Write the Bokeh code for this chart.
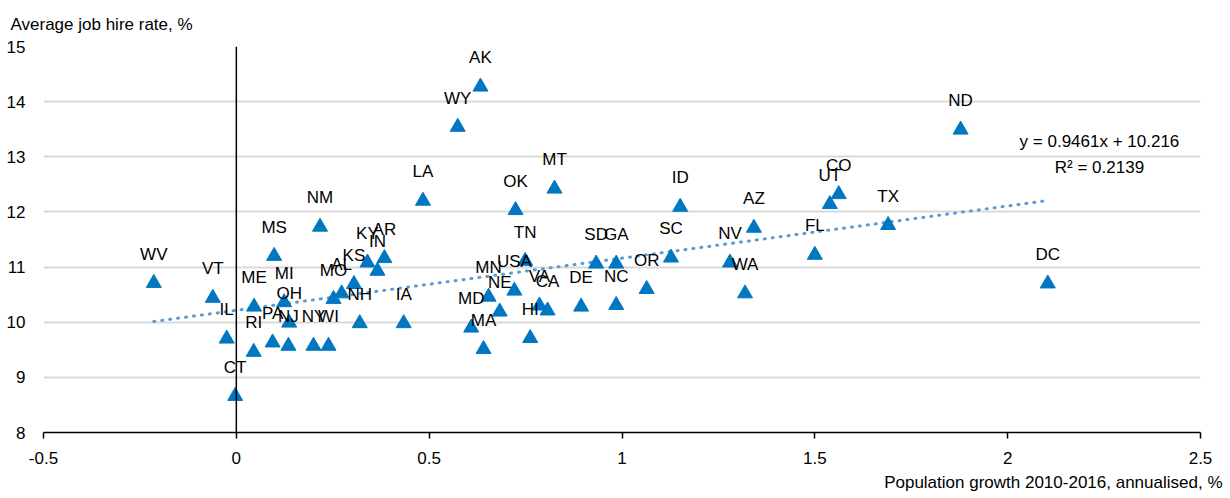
from bokeh.plotting import figure
from bokeh.models import ColumnDataSource, Span, Label, FixedTicker, Title
from bokeh.core.properties import value
from bokeh.embed import file_html
from bokeh.resources import INLINE

states = ["WV", "VT", "IL", "CT", "RI", "ME", "PA", "MS", "MI", "OH", "NJ", "NY", "WI",
          "NM", "MO", "AL", "KS", "NH", "KY", "IN", "AR", "IA", "LA", "WY", "AK", "OK",
          "MT", "MD", "MN", "MA", "NE", "USA", "TN", "HI", "VA", "CA", "DE", "NC", "SD",
          "GA", "OR", "SC", "ID", "NV", "AZ", "WA", "FL", "UT", "CO", "TX", "ND", "DC"]
pop_growth = [-0.214, -0.061, -0.025, -0.003, 0.045, 0.046, 0.094, 0.098, 0.124, 0.137,
              0.135, 0.200, 0.239, 0.217, 0.252, 0.273, 0.305, 0.320, 0.340, 0.366,
              0.384, 0.434, 0.484, 0.574, 0.633, 0.724, 0.825, 0.609, 0.654, 0.641,
              0.683, 0.721, 0.749, 0.762, 0.786, 0.807, 0.894, 0.985, 0.933, 0.985,
              1.064, 1.127, 1.151, 1.280, 1.342, 1.319, 1.500, 1.539, 1.562, 1.690,
              1.878, 2.104]
hire_rate = [10.71, 10.44, 9.70, 8.66, 9.46, 10.28, 9.63, 11.20, 10.36, 9.99,
             9.57, 9.57, 9.57, 11.73, 10.42, 10.52, 10.69, 9.98, 11.08, 10.93,
             11.16, 9.98, 12.20, 13.54, 14.27, 12.03, 12.42, 9.90, 10.46, 9.51,
             10.19, 10.57, 11.11, 9.71, 10.30, 10.21, 10.28, 10.31, 11.06, 11.06,
             10.60, 11.17, 12.09, 11.08, 11.71, 10.52, 11.22, 12.14, 12.32, 11.76,
             13.49, 10.70]
trend_slope = 0.9461
trend_intercept = 10.216
trend_r2 = 0.2139
x_ticks = [-0.5, 0, 0.5, 1, 1.5, 2, 2.5]
y_ticks = [8, 9, 10, 11, 12, 13, 14, 15]
y_title = "Average job hire rate, %"
x_title = "Population growth 2010-2016, annualised, %"

FONT = "Liberation Sans"
FS = "17px"

p = figure(width=1230, height=498, x_range=(-0.5, 2.5), y_range=(8, 15),
           output_backend="svg", toolbar_location=None,
           min_border_left=43, min_border_right=30, min_border_top=45, min_border_bottom=66)
p.outline_line_color = None
p.background_fill_color = "white"

# grid
p.xgrid.visible = False
p.ygrid.ticker = FixedTicker(ticks=y_ticks)
p.ygrid.grid_line_color = "#d9d9d9"
p.ygrid.grid_line_width = 2

# x axis
p.xaxis.ticker = FixedTicker(ticks=x_ticks)
p.xaxis.axis_line_color = "black"
p.xaxis.axis_line_width = 1.5
p.xaxis.major_tick_line_color = "black"
p.xaxis.major_tick_line_width = 1.5
p.xaxis.major_tick_out = 6
p.xaxis.major_tick_in = 0
p.xaxis.minor_tick_line_color = None
p.xaxis.major_label_standoff = 13
p.xaxis.major_label_text_font = FONT
p.xaxis.major_label_text_font_size = FS
p.xaxis.major_label_text_color = "black"
p.xaxis.major_label_overrides = {v: ("0" if v == 0 else ("%g" % v)) for v in x_ticks}

# y axis (labels only)
p.yaxis.ticker = FixedTicker(ticks=y_ticks)
p.yaxis.axis_line_color = None
p.yaxis.major_tick_line_color = None
p.yaxis.minor_tick_line_color = None
p.yaxis.major_tick_out = 0
p.yaxis.major_tick_in = 0
p.yaxis.major_label_standoff = 18
p.yaxis.major_label_text_font = FONT
p.yaxis.major_label_text_font_size = FS
p.yaxis.major_label_text_color = "black"

# vertical axis crossing at x = 0
p.add_layout(Span(location=0, dimension="height", line_color="black", line_width=1.5))

# trend line
tx = [min(pop_growth), max(pop_growth)]
ty = [trend_slope * v + trend_intercept for v in tx]
p.line(tx, ty, line_color="#5B9BD5", line_width=3, line_dash="1 7", line_cap="round")

src = ColumnDataSource(dict(x=pop_growth, y=hire_rate, lab=states))
p.scatter("x", "y", source=src, marker="triangle", size=15,
          fill_color="#0077C0", line_color="#0077C0")
p.text("x", "y", text="lab", source=src, y_offset=-29, text_align="center",
       text_baseline="middle", text_font=value(FONT), text_font_size=FS,
       text_color="black")

# equation
p.add_layout(Label(x=2.238, y=13.28, text="y = %.4fx + %.3f" % (trend_slope, trend_intercept),
                   text_align="center", text_baseline="middle", text_font=FONT,
                   text_font_size=FS, text_color="black"))
p.add_layout(Label(x=2.238, y=12.81, text="R² = %.4f" % trend_r2,
                   text_align="center", text_baseline="middle", text_font=FONT,
                   text_font_size=FS, text_color="black"))

# axis titles
p.add_layout(Title(text=y_title, align="left", offset=-33, standoff=25,
                   text_font=FONT, text_font_size=FS, text_font_style="normal",
                   text_color="black"), "above")
p.add_layout(Title(text=x_title, align="right", offset=-22, standoff=9,
                   text_font=FONT, text_font_size=FS, text_font_style="normal",
                   text_color="black"), "below")

open("out.html", "w").write(file_html(p, INLINE))
